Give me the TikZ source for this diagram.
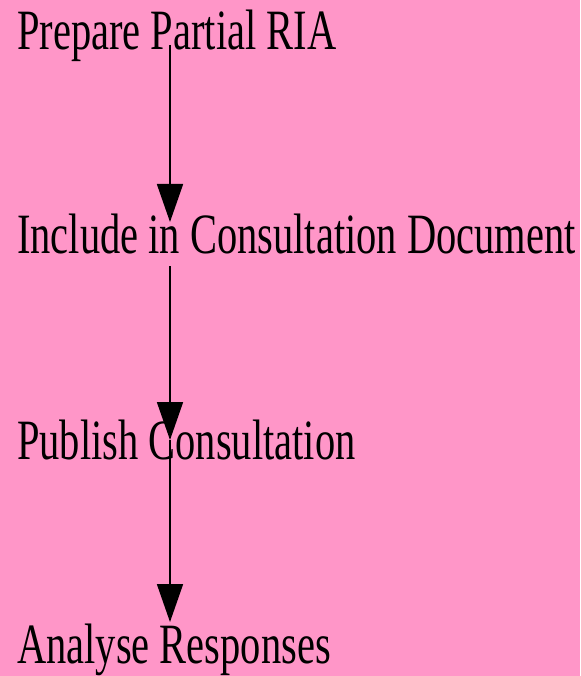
\documentclass[tikz,border=0pt]{standalone}
\usepackage{xcolor}
\usepackage{fontspec}
\usetikzlibrary{arrows.meta,calc}
\newfontfamily\riafont[FakeStretch=0.71]{Liberation Serif}
\definecolor{riapink}{RGB}{255,150,200}

\begin{document}
\begin{tikzpicture}[x=1pt,y=1pt,yscale=-1,xscale=1,
  steptext/.style={anchor=base west,inner sep=0pt,font=\riafont\fontsize{57}{60}\selectfont},
  flowline/.style={line width=1.8pt,-{Triangle[length=38pt,width=26pt]}}]
%set diagram size 580 x 676
\fill[riapink] (0,0) rectangle (580,676);
\coordinate (spine) at (170,0);

% Text Node
\node[steptext] (prep) at (17,50) {Prepare Partial RIA};
% Text Node
\node[steptext] (incl) at (17,253) {Include in Consultation Document};
% Text Node
\node[steptext] (pub) at (17,459) {Publish Consultation};
% Text Node
\node[steptext] (ana) at (17,663) {Analyse Responses};

%Straight Lines
\draw[flowline] ($(prep.base -| spine)+(0,-5)$) -- ($(incl.base -| spine)+(0,-31)$);
%Straight Lines
\draw[flowline] ($(incl.base -| spine)+(0,13)$) -- ($(pub.base -| spine)+(0,-19)$);
%Straight Lines
\draw[flowline] ($(pub.base -| spine)+(0,-19)$) -- ($(ana.base -| spine)+(0,-41)$);

\end{tikzpicture}
\end{document}
